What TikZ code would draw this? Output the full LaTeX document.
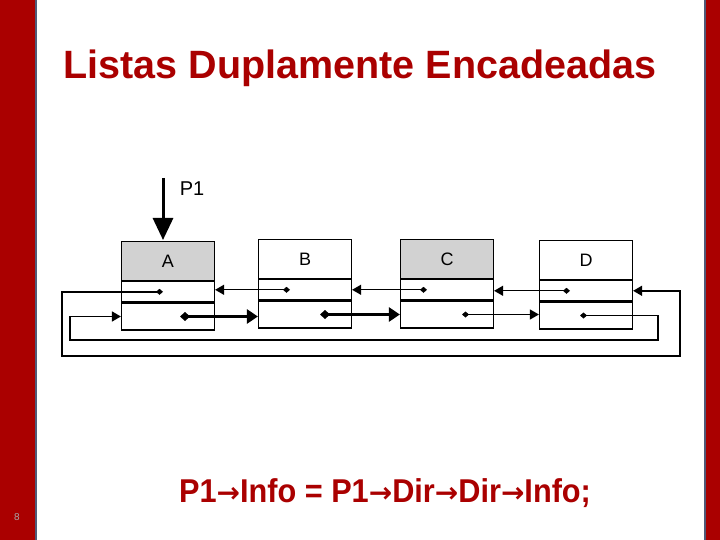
\documentclass[tikz,border=0pt]{standalone}
\usepackage{fontspec}
\setmainfont{Liberation Sans}
\newfontfamily\narrowfont[FakeStretch=0.93]{Liberation Sans}
\newfontfamily\djv{DejaVu Sans}
\usetikzlibrary{arrows.meta}
\definecolor{slidered}{RGB}{170,0,0}
\definecolor{barblue}{RGB}{80,90,120}
\definecolor{cellgray}{RGB}{210,210,210}
\tikzset{
 cell/.style={draw=black,line width=1.2pt,minimum width=93pt,inner sep=0pt},
 lnk/.style={line width=1.2pt,{Diamond[length=7pt,width=6pt]}-{Triangle[length=9pt,width=10pt]}},
 thick lnk/.style={line width=3pt,{Diamond[length=10pt,width=9pt]}-{Triangle[length=11pt,width=14pt]}},
}
\newcommand{\rarr}{{\djv\fontsize{28}{30}\selectfont →}}
\begin{document}
\begin{tikzpicture}[x=1pt,y=-1pt]
\useasboundingbox (0,0) rectangle (720,540);
\fill[white] (0,0) rectangle (720,540);
\fill[slidered] (0,0) rectangle (37,540);
\draw[barblue,line width=2pt] (36,0) -- (36,540);
\fill[slidered] (705,0) rectangle (720,540);
\draw[barblue,line width=2pt] (705,0) -- (705,540);
\node[text=slidered,font=\fontsize{39.5}{44}\selectfont\bfseries] (title) at (360,68) {Listas Duplamente Encadeadas};
\node[text=black!35,font=\fontsize{10}{12}\selectfont] (pg) at (17,517) {8};
\node[text=slidered,font=\narrowfont\bfseries\fontsize{33}{36}\selectfont] (code) at (385,493) {P1\rarr Info = P1\rarr Dir\rarr Dir\rarr Info;};
% nodes
\foreach \n/\x/\y/\f in {A/168/241/cellgray,B/305/239/white,C/447/239/cellgray,D/586/240/white}{
  \node[cell,fill=\f,minimum height=39pt,anchor=north,font=\fontsize{18}{20}\selectfont] (\n) at (\x,\y) {\n};
  \node[cell,minimum height=20pt,anchor=north] (\n p) at (\n.south) {};
  \node[cell,minimum height=27pt,anchor=north] (\n n) at (\n p.south) {};
}
% pointer P1
\node[font=\fontsize{20}{22}\selectfont] (p1) at (192,189) {P1};
\coordinate (p1s) at (163,178);
\draw[line width=3pt,-{Triangle[length=22pt,width=20pt]}] (p1s) -- (163,240);
% prev links
\draw[lnk] ([xshift=-15pt]Bp.center) -- (Ap.east |- Bp.center);
\draw[lnk] ([xshift=-20pt]Cp.center) -- (Bp.east |- Cp.center);
\draw[lnk] ([xshift=-16pt]Dp.center) -- (Cp.east |- Dp.center);
% next links
\draw[thick lnk] ([xshift=12pt]An.center) -- (Bn.west |- An.center);
\draw[thick lnk] ([xshift=15pt]Bn.center) -- (Cn.west |- Bn.center);
\draw[lnk] ([xshift=15pt]Cn.center) -- (Dn.west |- Cn.center);
% loops
\draw[lnk,line width=1.5pt] ([xshift=-5pt]Ap.center) -| (62,356) -- (680,356) |- (Dp.east);
\draw[lnk,line width=1.5pt] ([xshift=-6pt]Dn.center) -| (658,340) -- (70,340) |- (An.west);
\end{tikzpicture}
\end{document}
